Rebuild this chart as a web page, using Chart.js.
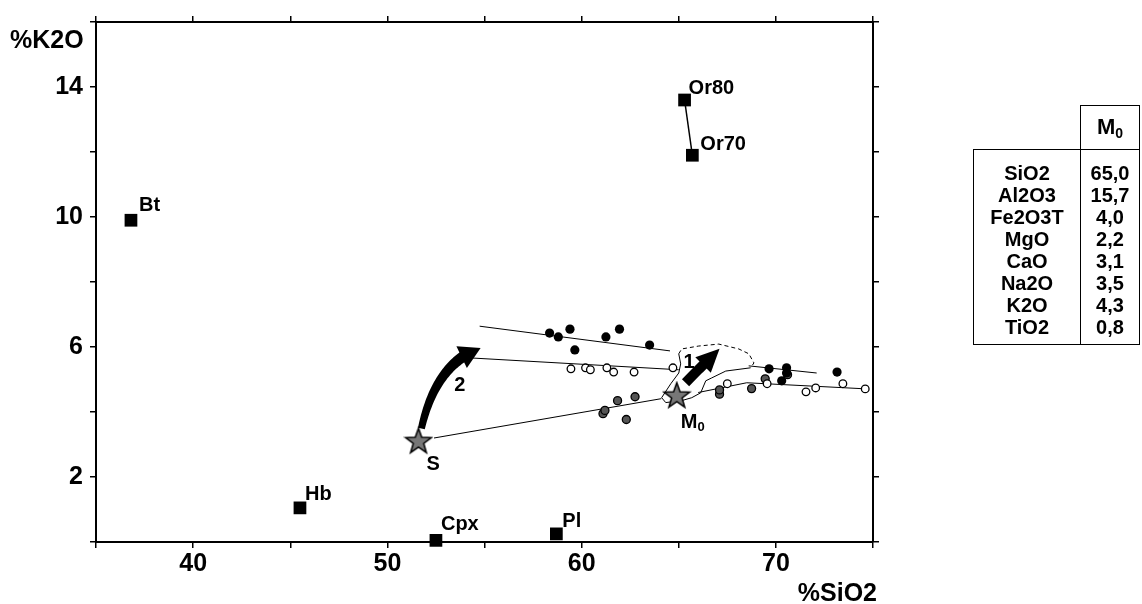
<!DOCTYPE html>
<html>
<head>
<meta charset="utf-8">
<script src="https://cdn.jsdelivr.net/npm/chart.js@4/dist/chart.umd.min.js"></script>
<style>
  html, body { margin: 0; padding: 0; background: #fff; }
  #wrap { position: relative; width: 1142px; height: 604px; overflow: hidden; }
  #m0_head {
    position: absolute; left: 1080px; top: 105px; width: 60px; height: 45px;
    border: 1.5px solid #000; border-bottom: none; box-sizing: border-box;
    font: bold 22px "Liberation Sans", Arial, sans-serif; text-align: center; line-height: 42px;
  }
  #m0_head sub { font-size: 14px; vertical-align: -4px; }
  #oxide_table {
    position: absolute; left: 973px; top: 149px; width: 167px; height: 196px;
    border: 1.5px solid #000; box-sizing: border-box; display: flex;
    font: bold 20px "Liberation Sans", Arial, sans-serif; line-height: 22px;
  }
  #col_names { width: 107px; border-right: 1.5px solid #000; text-align: center; padding-top: 12px; box-sizing: border-box; }
  #col_vals { flex: 1; text-align: center; padding-top: 12px; }
</style>
</head>
<body>
<div id="wrap">
  <canvas id="k2o_chart" width="1142" height="604"></canvas>
  <div id="m0_head">M<sub>0</sub></div>
  <div id="oxide_table"><div id="col_names"></div><div id="col_vals"></div></div>
</div>
<script>
// --- data ---
const mineralNames = ['Bt', 'Hb', 'Cpx', 'Pl', 'Or80', 'Or70'];
const mineralSiO2 = [36.8, 45.5, 52.5, 58.7, 65.3, 65.7];
const mineralK2O = [9.9, 1.05, 0.05, 0.25, 13.6, 11.9];

const sourceNames = ['S', 'M0'];
const sourceSiO2 = [51.6, 64.9];
const sourceK2O = [3.1, 4.5];

const blackSiO2 = [58.35, 58.8, 59.4, 59.65, 61.25, 61.95, 63.5, 69.65, 70.55, 70.55, 70.3, 73.15];
const blackK2O = [6.43, 6.31, 6.55, 5.91, 6.31, 6.55, 6.06, 5.33, 5.36, 5.2, 4.96, 5.23];

const openSiO2 = [59.45, 60.2, 60.45, 61.3, 61.65, 62.7, 64.7, 67.5, 69.55, 71.55, 72.05, 73.45, 74.6];
const openK2O = [5.33, 5.36, 5.3, 5.36, 5.23, 5.23, 5.36, 4.87, 4.87, 4.62, 4.74, 4.87, 4.71];

const greySiO2 = [61.1, 61.2, 61.85, 62.75, 62.3, 67.1, 67.1, 68.75, 69.45, 70.6];
const greyK2O = [3.95, 4.05, 4.35, 4.47, 3.77, 4.55, 4.68, 4.72, 5.02, 5.15];

// mixing / trend lines [SiO2, K2O]
const trendA = [[54.75, 6.64], [64.55, 5.88]];
const trendA2 = [[68.6, 5.42], [72.1, 5.2]];
const trendB = [[54.4, 5.66], [65.0, 5.3]];
const trendB2 = [[66.0, 4.6], [68.5, 4.9], [74.7, 4.71]];
const trendC = [[52.4, 3.2], [64.1, 4.41]];

// outline of the M0 field
const fieldDashed = [[65.0, 5.79], [65.15, 5.94], [66.03, 6.03], [67.06, 6.09], [68.09, 5.94], [68.61, 5.79], [68.87, 5.51], [68.7, 5.36]];
const fieldSolid = [[68.7, 5.36], [67.42, 5.26], [66.7, 5.05], [66.39, 4.96], [66.13, 4.59], [65.67, 4.44], [65.15, 4.35], [64.33, 4.29], [64.12, 4.44], [64.59, 4.87], [65.0, 5.2], [65.1, 5.48], [65.0, 5.79]];

// arrows: tail, control, tip
const arrow1 = [[65.35, 4.9], [66.2, 5.42], [67.1, 5.95]];
const arrow2 = [[51.75, 3.49], [52.5, 5.5], [54.8, 5.97]];
const arrowNames = ['1', '2'];

const xTickLabels = [40, 50, 60, 70];
const yTickLabels = [2, 6, 10, 14];

const tableOxides = ['SiO2', 'Al2O3', 'Fe2O3T', 'MgO', 'CaO', 'Na2O', 'K2O', 'TiO2'];
const tableM0 = ['65,0', '15,7', '4,0', '2,2', '3,1', '3,5', '4,3', '0,8'];

// --- styles ---
const fontFamily = "'Liberation Sans', Arial, Helvetica, sans-serif";
const mineralLabelOffsets = [[8, -9], [5, -8], [5, -10], [6, -7], [4, -6], [8, -5]];
const sourceLabelOffsets = [[8, 29], [4, 32]];
const arrowLabelOffsets = [[-2, -15], [33, -38]];

document.getElementById('col_names').innerHTML = tableOxides.map((t) => '<div>' + t + '</div>').join('');
document.getElementById('col_vals').innerHTML = tableM0.map((t) => '<div>' + t + '</div>').join('');

const pairs = (xs, ys) => xs.map((x, i) => ({ x: x, y: ys[i] }));
const pts = (arr) => arr.map((p) => ({ x: p[0], y: p[1] }));

const starImg = (() => {
    const c = document.createElement('canvas');
    c.width = 30;
    c.height = 30;
    const g = c.getContext('2d');
    g.beginPath();
    for (let i = 0; i < 10; i++) {
        const r = i % 2 ? 5.5 : 13.5;
        const a = -Math.PI / 2 + (i * Math.PI) / 5;
        const px = 15 + r * Math.cos(a);
        const py = 15.5 + r * Math.sin(a);
        if (i) g.lineTo(px, py);
        else g.moveTo(px, py);
    }
    g.closePath();
    g.fillStyle = '#777';
    g.fill();
    g.lineWidth = 1.5;
    g.strokeStyle = '#000';
    g.stroke();
    return c;
})();

function lineSet(arr, dash) {
    return {
        data: pts(arr),
        showLine: true,
        borderColor: '#000',
        borderWidth: 1,
        borderDash: dash || [],
        pointRadius: 0,
        clip: false,
    };
}

function drawArrow(ctx, p, w0, w1, headLen, headW) {
    const bez = (t) => ({
        x: (1 - t) * (1 - t) * p[0].x + 2 * (1 - t) * t * p[1].x + t * t * p[2].x,
        y: (1 - t) * (1 - t) * p[0].y + 2 * (1 - t) * t * p[1].y + t * t * p[2].y,
    });
    const tip = p[2];
    let tb = 1;
    while (tb > 0 && Math.hypot(bez(tb).x - tip.x, bez(tb).y - tip.y) < headLen) tb -= 0.005;
    const left = [];
    const right = [];
    const n = 40;
    for (let i = 0; i <= n; i++) {
        const t = (tb * i) / n;
        const a = bez(t);
        const b = bez(Math.min(t + 0.01, 1));
        const dx = b.x - a.x;
        const dy = b.y - a.y;
        const len = Math.hypot(dx, dy) || 1;
        const w = (w0 + ((w1 - w0) * i) / n) / 2;
        left.push([a.x - (dy / len) * w, a.y + (dx / len) * w]);
        right.push([a.x + (dy / len) * w, a.y - (dx / len) * w]);
    }
    ctx.beginPath();
    left.forEach((q, i) => (i ? ctx.lineTo(q[0], q[1]) : ctx.moveTo(q[0], q[1])));
    right.reverse().forEach((q) => ctx.lineTo(q[0], q[1]));
    ctx.closePath();
    ctx.fill();
    const base = bez(tb);
    const dx = tip.x - base.x;
    const dy = tip.y - base.y;
    const len = Math.hypot(dx, dy) || 1;
    const nx = -dy / len;
    const ny = dx / len;
    ctx.beginPath();
    ctx.moveTo(tip.x, tip.y);
    ctx.lineTo(base.x + (nx * headW) / 2 - (dx / len) * 3, base.y + (ny * headW) / 2 - (dy / len) * 3);
    ctx.lineTo(base.x - (nx * headW) / 2 - (dx / len) * 3, base.y - (ny * headW) / 2 - (dy / len) * 3);
    ctx.closePath();
    ctx.fill();
}

const annotations = {
    id: 'annotations',
    afterDatasetsDraw(chart) {
        const ctx = chart.ctx;
        const xs = chart.scales.x;
        const ys = chart.scales.y;
        const px = (p) => ({ x: xs.getPixelForValue(p[0]), y: ys.getPixelForValue(p[1]) });
        ctx.save();
        ctx.fillStyle = '#000';

        // arrows
        const a1 = arrow1.map(px);
        const a2 = arrow2.map(px);
        drawArrow(ctx, a1, 10, 10, 20, 22);
        drawArrow(ctx, a2, 7, 11, 18, 24);

        ctx.font = 'bold 20px ' + fontFamily;
        ctx.textBaseline = 'alphabetic';
        ctx.textAlign = 'left';
        [a1, a2].forEach((a, i) => {
            ctx.fillText(arrowNames[i], a[0].x + arrowLabelOffsets[i][0], a[0].y + arrowLabelOffsets[i][1]);
        });

        // mineral labels
        const mMeta = chart.getDatasetMeta(0);
        mineralNames.forEach((name, i) => {
            const el = mMeta.data[i];
            ctx.fillText(name, el.x + mineralLabelOffsets[i][0], el.y + mineralLabelOffsets[i][1]);
        });

        // source labels (S, M0 with subscript)
        const sMeta = chart.getDatasetMeta(1);
        sourceNames.forEach((name, i) => {
            const el = sMeta.data[i];
            const x = el.x + sourceLabelOffsets[i][0];
            const y = el.y + sourceLabelOffsets[i][1];
            ctx.font = 'bold 20px ' + fontFamily;
            ctx.fillText(name[0], x, y);
            if (name.length > 1) {
                const w = ctx.measureText(name[0]).width;
                ctx.font = 'bold 13px ' + fontFamily;
                ctx.fillText(name.slice(1), x + w, y + 3);
            }
        });

        // axis titles
        ctx.font = 'bold 25px ' + fontFamily;
        ctx.textAlign = 'left';
        ctx.fillText('%K2O', 10, 48);
        ctx.textAlign = 'right';
        ctx.fillText('%SiO2', 877, 601);
        ctx.restore();
    },
};

const tickFont = { family: fontFamily, size: 25, weight: 'bold' };
const axisGrid = { drawOnChartArea: false, drawTicks: true, tickLength: 6, color: '#000', lineWidth: 1.5 };
const axisBorder = { display: true, color: '#000', width: 2 };

new Chart(document.getElementById('k2o_chart'), {
    type: 'scatter',
    data: {
        datasets: [
            {
                data: pairs(mineralSiO2, mineralK2O),
                pointStyle: 'rect',
                pointRadius: 9,
                pointHoverRadius: 9,
                backgroundColor: '#000',
                borderColor: '#000',
                borderWidth: 0,
                clip: false,
            },
            {
                data: pairs(sourceSiO2, sourceK2O),
                pointStyle: starImg,
                pointRadius: 14,
                clip: false,
            },
            {
                data: pairs(blackSiO2, blackK2O),
                pointRadius: 4.6,
                backgroundColor: '#000',
                borderColor: '#000',
                borderWidth: 0,
            },
            {
                data: pairs(openSiO2, openK2O),
                pointRadius: 3.8,
                backgroundColor: '#fff',
                borderColor: '#000',
                borderWidth: 1.3,
            },
            {
                data: pairs(greySiO2, greyK2O),
                pointRadius: 4,
                backgroundColor: '#555',
                borderColor: '#000',
                borderWidth: 1.3,
            },
            {
                data: [
                    { x: mineralSiO2[4], y: mineralK2O[4] },
                    { x: mineralSiO2[5], y: mineralK2O[5] },
                ],
                showLine: true,
                borderColor: '#000',
                borderWidth: 1.5,
                pointRadius: 0,
            },
            lineSet(trendA),
            lineSet(trendA2),
            lineSet(trendB),
            lineSet(trendB2),
            lineSet(trendC),
            lineSet(fieldDashed, [4, 3]),
            lineSet(fieldSolid),
        ],
    },
    options: {
        responsive: false,
        animation: false,
        devicePixelRatio: 1,
        layout: { padding: { left: 0, top: 0, right: 263, bottom: 0 } },
        plugins: { legend: { display: false }, tooltip: { enabled: false } },
        elements: { line: { tension: 0 } },
        scales: {
            x: {
                type: 'linear',
                position: 'bottom',
                min: 35,
                max: 75,
                ticks: {
                    stepSize: 5,
                    autoSkip: false,
                    maxRotation: 0,
                    color: '#000',
                    font: tickFont,
                    padding: 1,
                    callback: (v) => (xTickLabels.includes(v) ? v : ''),
                },
                grid: axisGrid,
                border: axisBorder,
                afterFit: (s) => {
                    s.height = 62;
                },
            },
            x2: {
                type: 'linear',
                position: 'top',
                min: 35,
                max: 75,
                ticks: { stepSize: 5, display: false },
                grid: axisGrid,
                border: axisBorder,
                afterFit: (s) => {
                    s.height = 18;
                },
            },
            y: {
                type: 'linear',
                position: 'left',
                min: 0,
                max: 16,
                ticks: {
                    stepSize: 2,
                    autoSkip: false,
                    color: '#000',
                    font: tickFont,
                    padding: 7,
                    callback: (v) => (yTickLabels.includes(v) ? v : ''),
                },
                grid: axisGrid,
                border: axisBorder,
                afterFit: (s) => {
                    s.width = 96;
                },
            },
            y2: {
                type: 'linear',
                position: 'right',
                min: 0,
                max: 16,
                ticks: { stepSize: 2, display: false },
                grid: axisGrid,
                border: axisBorder,
                afterFit: (s) => {
                    s.width = 6;
                },
            },
        },
    },
    plugins: [annotations],
});
</script>
</body>
</html>
